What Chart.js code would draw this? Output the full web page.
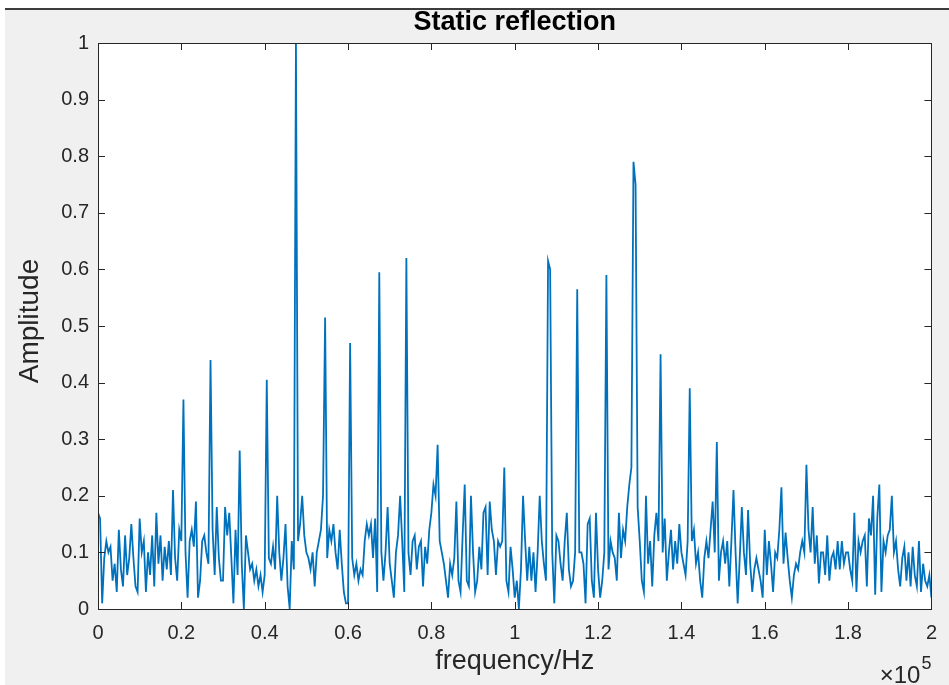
<!DOCTYPE html>
<html>
<head>
<meta charset="utf-8">
<title>Static reflection</title>
<script src="https://cdn.jsdelivr.net/npm/chart.js@4.4.1/dist/chart.umd.min.js"></script>
<style>
  html, body { margin: 0; padding: 0; background: #fff; }
  #frame {
    position: absolute; left: 5px; top: 8px;
    width: 944px; height: 675px;
    background: #f0f0f0;
    border-top: 2px solid #3c3c3c;
  }
  canvas { display: block; }
</style>
</head>
<body>
<div id="frame"><canvas id="spectrum" width="944" height="675"></canvas></div>
<script>
// spectrum samples, one every FREQ_STEP Hz starting at 0 Hz
const FREQ_STEP = 500;
const amplitude = [
  0.17, 0.16, 0.01, 0.09, 0.12, 0.10, 0.11, 0.05, 0.08, 0.03, 0.14, 0.07, 0.04, 0.13, 0.06, 0.09, 0.15, 0.09, 0.04, 0.03,
  0.16, 0.10, 0.12, 0.03, 0.10, 0.06, 0.13, 0.04, 0.17, 0.08, 0.13, 0.05, 0.11, 0.07, 0.12, 0.06, 0.21, 0.09, 0.05, 0.14,
  0.12, 0.37, 0.10, 0.02, 0.12, 0.14, 0.11, 0.19, 0.02, 0.05, 0.12, 0.13, 0.10, 0.08, 0.44, 0.14, 0.06, 0.18, 0.09, 0.05,
  0.05, 0.18, 0.13, 0.17, 0.09, 0.01, 0.14, 0.06, 0.28, 0.08, 0.00, 0.13, 0.10, 0.07, 0.08, 0.05, 0.07, 0.04, 0.06, 0.03,
  0.06, 0.405, 0.09, 0.08, 0.11, 0.07, 0.20, 0.10, 0.05, 0.09, 0.15, 0.04, 0.00, 0.12, 0.07, 1.00, 0.12, 0.15, 0.20, 0.13,
  0.10, 0.09, 0.07, 0.10, 0.04, 0.10, 0.12, 0.14, 0.20, 0.515, 0.09, 0.14, 0.12, 0.15, 0.10, 0.07, 0.14, 0.08, 0.03, 0.01,
  0.01, 0.47, 0.09, 0.06, 0.08, 0.05, 0.07, 0.06, 0.12, 0.15, 0.13, 0.15, 0.09, 0.16, 0.03, 0.595, 0.10, 0.05, 0.10, 0.18,
  0.08, 0.05, 0.02, 0.10, 0.13, 0.20, 0.12, 0.03, 0.62, 0.10, 0.06, 0.12, 0.13, 0.07, 0.11, 0.12, 0.04, 0.11, 0.08, 0.14,
  0.17, 0.22, 0.20, 0.29, 0.12, 0.10, 0.08, 0.05, 0.02, 0.08, 0.06, 0.09, 0.19, 0.05, 0.03, 0.13, 0.22, 0.05, 0.04, 0.20,
  0.10, 0.03, 0.05, 0.11, 0.07, 0.17, 0.18, 0.06, 0.19, 0.14, 0.12, 0.06, 0.12, 0.11, 0.12, 0.25, 0.05, 0.03, 0.11, 0.07,
  0.02, 0.05, 0.00, 0.07, 0.20, 0.12, 0.05, 0.11, 0.05, 0.10, 0.03, 0.10, 0.20, 0.12, 0.08, 0.05, 0.615, 0.60, 0.10, 0.01,
  0.13, 0.12, 0.08, 0.05, 0.12, 0.17, 0.07, 0.04, 0.05, 0.10, 0.565, 0.10, 0.10, 0.08, 0.01, 0.15, 0.16, 0.05, 0.02, 0.17,
  0.07, 0.02, 0.05, 0.10, 0.59, 0.07, 0.12, 0.10, 0.09, 0.05, 0.17, 0.09, 0.14, 0.12, 0.18, 0.22, 0.25, 0.79, 0.75, 0.18,
  0.12, 0.05, 0.03, 0.20, 0.08, 0.12, 0.04, 0.13, 0.17, 0.12, 0.45, 0.10, 0.16, 0.05, 0.10, 0.14, 0.07, 0.12, 0.08, 0.15,
  0.10, 0.08, 0.06, 0.12, 0.39, 0.12, 0.14, 0.08, 0.10, 0.05, 0.02, 0.09, 0.12, 0.09, 0.14, 0.19, 0.10, 0.295, 0.05, 0.10,
  0.12, 0.08, 0.12, 0.04, 0.12, 0.21, 0.10, 0.01, 0.09, 0.18, 0.10, 0.06, 0.175, 0.08, 0.03, 0.07, 0.09, 0.07, 0.05, 0.02,
  0.14, 0.06, 0.12, 0.08, 0.03, 0.10, 0.09, 0.14, 0.215, 0.08, 0.135, 0.09, 0.05, 0.02, 0.06, 0.08, 0.07, 0.10, 0.12, 0.10,
  0.255, 0.14, 0.10, 0.18, 0.08, 0.13, 0.045, 0.10, 0.10, 0.06, 0.13, 0.05, 0.09, 0.10, 0.07, 0.12, 0.07, 0.12, 0.08, 0.10,
  0.10, 0.07, 0.05, 0.17, 0.03, 0.12, 0.10, 0.12, 0.13, 0.04, 0.16, 0.13, 0.20, 0.025, 0.16, 0.22, 0.03, 0.12, 0.10, 0.13,
  0.14, 0.20, 0.10, 0.12, 0.07, 0.04, 0.09, 0.11, 0.05, 0.10, 0.04, 0.11, 0.06, 0.04, 0.12, 0.03, 0.08, 0.05, 0.04, 0.06,
  0.02
];
const xTickValues = [0, 20000, 40000, 60000, 80000, 100000, 120000, 140000, 160000, 180000, 200000];
const yTickValues = [0, 0.1, 0.2, 0.3, 0.4, 0.5, 0.6, 0.7, 0.8, 0.9, 1];

const TITLE = 'Static reflection';
const X_LABEL = 'frequency/Hz';
const Y_LABEL = 'Amplitude';

const FONT = "'Liberation Sans', Arial, Helvetica, sans-serif";
const AXIS_COLOR = '#262626';
const LINE_COLOR = '#0072bd';
const TICK_LEN = 7;

const points = amplitude.map((v, i) => ({ x: i * FREQ_STEP, y: v }));

// white axes box, inward ticks on all four sides, and the text around it
const matlabAxes = {
  id: 'matlabAxes',
  beforeDraw(chart) {
    const { ctx, chartArea: a } = chart;
    ctx.save();
    ctx.fillStyle = '#fff';
    ctx.fillRect(a.left, a.top, a.right - a.left, a.bottom - a.top);
    ctx.restore();
  },
  afterDraw(chart) {
    const { ctx, chartArea: a } = chart;
    const xs = chart.scales.x, ys = chart.scales.y;
    ctx.save();
    ctx.strokeStyle = AXIS_COLOR;
    ctx.lineWidth = 1;
    ctx.beginPath();
    for (const v of xTickValues) {
      const px = Math.round(xs.getPixelForValue(v)) + 0.5;
      ctx.moveTo(px, a.bottom); ctx.lineTo(px, a.bottom - TICK_LEN);
      ctx.moveTo(px, a.top); ctx.lineTo(px, a.top + TICK_LEN);
    }
    for (const v of yTickValues) {
      const py = Math.round(ys.getPixelForValue(v)) + 0.5;
      ctx.moveTo(a.left, py); ctx.lineTo(a.left + TICK_LEN, py);
      ctx.moveTo(a.right, py); ctx.lineTo(a.right - TICK_LEN, py);
    }
    ctx.stroke();
    ctx.strokeRect(Math.round(a.left) + 0.5, Math.round(a.top) + 0.5,
      Math.round(a.right - a.left), Math.round(a.bottom - a.top));

    const cx = (a.left + a.right) / 2;
    ctx.fillStyle = '#000';
    ctx.textAlign = 'center';
    ctx.textBaseline = 'middle';
    ctx.font = `bold 27px ${FONT}`;
    ctx.fillText(TITLE, cx, 13);

    ctx.fillStyle = AXIS_COLOR;
    ctx.font = `27px ${FONT}`;
    ctx.fillText(X_LABEL, cx, a.bottom + 53);

    ctx.save();
    ctx.translate(25, (a.top + a.bottom) / 2 - 5);
    ctx.rotate(-Math.PI / 2);
    ctx.font = `28px ${FONT}`;
    ctx.fillText(Y_LABEL, 0, 0);
    ctx.restore();

    // exponent of the x axis
    ctx.textBaseline = 'alphabetic';
    ctx.textAlign = 'right';
    ctx.font = `24px ${FONT}`;
    ctx.fillText('\u00d710', a.right - 11, a.bottom + 74);
    ctx.textAlign = 'left';
    ctx.font = `18px ${FONT}`;
    ctx.fillText('5', a.right - 10, a.bottom + 60);
    ctx.restore();
  }
};

new Chart(document.getElementById('spectrum'), {
  type: 'line',
  data: {
    datasets: [{
      data: points,
      borderColor: LINE_COLOR,
      borderWidth: 1.8,
      pointRadius: 0,
      tension: 0,
      fill: false
    }]
  },
  options: {
    responsive: false,
    devicePixelRatio: 1,
    animation: false,
    parsing: false,
    layout: { padding: { left: 0, top: 33, right: 17, bottom: 0 } },
    plugins: {
      legend: { display: false },
      tooltip: { enabled: false },
      title: { display: false }
    },
    scales: {
      x: {
        type: 'linear',
        min: 0,
        max: 200000,
        afterFit: (s) => { s.height = 76; },
        afterBuildTicks: (s) => { s.ticks = xTickValues.map(v => ({ value: v })); },
        grid: { display: false, drawTicks: false },
        border: { display: false },
        ticks: {
          padding: 12,
          color: AXIS_COLOR,
          font: { family: FONT, size: 20 },
          maxRotation: 0,
          callback: (v) => String(+(v / 1e5).toFixed(1))
        }
      },
      y: {
        type: 'linear',
        min: 0,
        max: 1,
        afterFit: (s) => { s.width = 93; },
        afterBuildTicks: (s) => { s.ticks = yTickValues.map(v => ({ value: v })); },
        grid: { display: false, drawTicks: false },
        border: { display: false },
        ticks: {
          padding: 9,
          color: AXIS_COLOR,
          font: { family: FONT, size: 20 },
          callback: (v) => String(+v.toFixed(1))
        }
      }
    }
  },
  plugins: [matlabAxes]
});
</script>
</body>
</html>
